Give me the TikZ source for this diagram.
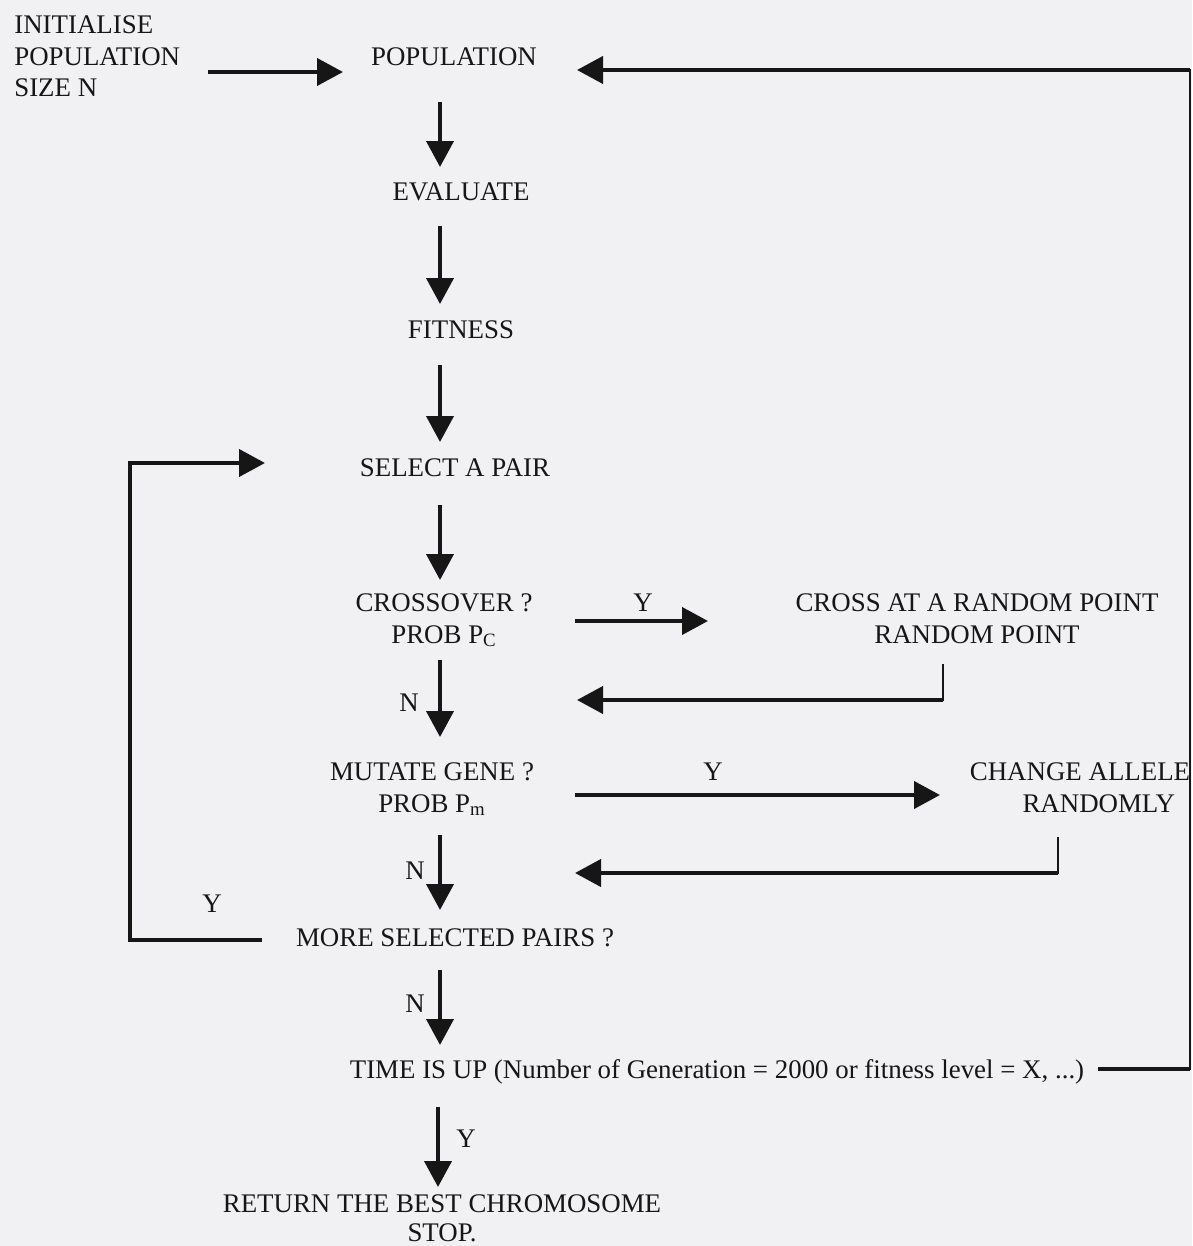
\documentclass[tikz,border=0pt]{standalone}
\usepackage{fontspec}
\setmainfont{Liberation Serif}
\usetikzlibrary{arrows.meta,calc}
\definecolor{paper}{RGB}{241,241,243}
\definecolor{ink}{RGB}{22,22,22}
\begin{document}
\begin{tikzpicture}[x=0.02cm,y=-0.02cm,
  lbl/.style={inner sep=0pt, anchor=base, text=ink,
              font=\fontsize{15.3}{18.2}\selectfont, align=center},
  arr/.style={draw=ink, line width=0.08cm, -{Triangle[length=0.52cm,width=0.54cm]}},
  bar/.style={draw=ink, line width=0.08cm},
  rail/.style={draw=ink, line width=0.04cm, line cap=rect},
]
\fill[paper] (0,0) rectangle (1192,1246);
\useasboundingbox (0,0) rectangle (1192,1246);

% steps of the algorithm (multi-line nodes sit on the baseline of their last line)
\node[lbl, anchor=base west, align=left] (init) at (14,97) {INITIALISE\\POPULATION\\SIZE N};
\node[lbl] (pop)  at (454,66)  {POPULATION};
\node[lbl] (eval) at (461,201) {EVALUATE};
\node[lbl] (fit)  at (461,339) {FITNESS};
\node[lbl] (sel)  at (455,476) {SELECT A PAIR};
\node[lbl] (cross) at (444,643) {CROSSOVER ?\\PROB P\textsubscript{C}};
\node[lbl] (cpt)  at (977,643) {CROSS AT A RANDOM POINT\\RANDOM POINT};
\node[lbl] (mut)  at (432,812) {MUTATE GENE ?\\PROB P\textsubscript{m}};
\node[lbl, align=right] (chg) at (1080,812) {CHANGE ALLELE\\RANDOMLY\hspace*{0.3cm}};
\node[lbl] (more) at (455,946) {MORE SELECTED PAIRS ?};
\node[lbl] (time) at (717,1078) {TIME IS UP (Number of Generation = 2000 or fitness level = X, ...)};
\node[lbl] (ret)  at (442,1241) {RETURN THE BEST CHROMOSOME\\[-0.06cm]STOP.};

% decision labels
\node[lbl] (ycross) at (643,611)  {Y};
\node[lbl] (ncross) at (409,711)  {N};
\node[lbl] (ymut)   at (713,780)  {Y};
\node[lbl] (nmut)   at (415,879)  {N};
\node[lbl] (yloop)  at (212,912)  {Y};
\node[lbl] (nmore)  at (415,1012) {N};
\node[lbl] (ytime)  at (466,1147) {Y};

% main flow
\draw[arr] ($(init.base west)+(194,-25)$) -- ($(pop.base)+(-111,6)$);
\draw[arr] ($(pop.base)+(-14,36)$)  -- ($(eval.base)+(-21,-34)$);
\draw[arr] ($(eval.base)+(-21,25)$) -- ($(fit.base)+(-21,-35)$);
\draw[arr] ($(fit.base)+(-21,26)$)  -- ($(sel.base)+(-15,-34)$);
\draw[arr] ($(sel.base)+(-15,29)$)  -- ($(cross.base)+(-4,-63)$);

% crossover branch
\draw[arr] ($(cross.base)+(131,-22)$) -- ($(cpt.base)+(-269,-22)$);
\coordinate (cptc) at ($(cpt.base)+(-34,57)$);
\draw[rail] ($(cpt.base)+(-34,22)$) -- (cptc);
\draw[arr] (cptc) -- ($(cross.base)+(133,57)$);
\draw[arr] ($(cross.base)+(-4,17)$) -- ($(mut.base)+(8,-75)$);

% mutation branch
\draw[arr] ($(mut.base)+(143,-17)$) -- ($(chg.base)+(-140,-17)$);
\coordinate (chgc) at ($(chg.base)+(-22,61)$);
\draw[rail] ($(chg.base)+(-22,26)$) -- (chgc);
\draw[arr] (chgc) -- ($(mut.base)+(143,61)$);
\draw[arr] ($(mut.base)+(8,23)$) -- ($(more.base)+(-15,-36)$);

% loop back for further pairs
\coordinate (loopx) at (130,700);
\draw[arr] ($(more.base)+(-193,-6)$) -| (loopx) |- ($(sel.base)+(-190,-13)$);

% generation test
\draw[arr] ($(more.base)+(-15,24)$) -- ($(time.base)+(-277,-33)$);
\coordinate (edgeb) at (1190,1069);
\coordinate (edget) at (1190,70);
\draw[bar] ($(time.base)+(381,-9)$) -- (edgeb);
\draw[rail] (edgeb) -- (edget);
\draw[arr] (edget) -- ($(pop.base)+(123,4)$);
\draw[arr] ($(time.base)+(-279,29)$) -- ($(ret.base)+(-4,-54)$);
\end{tikzpicture}
\end{document}
